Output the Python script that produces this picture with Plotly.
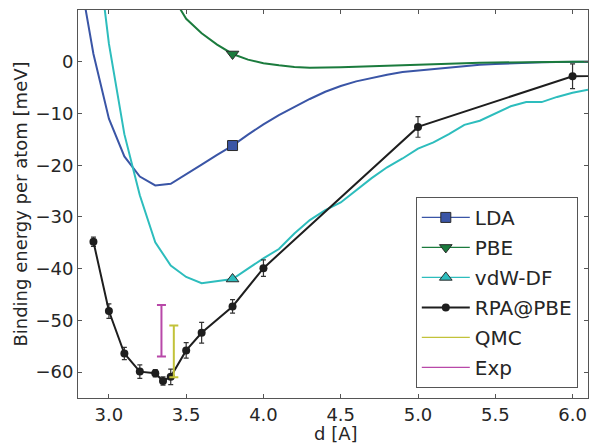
import plotly.graph_objects as go

# Interlayer distance grid for the DFT curves [A]
d_dft = [2.8, 2.9, 3.0, 3.1, 3.2, 3.3, 3.4, 3.5, 3.6, 3.7, 3.8, 3.9, 4.0, 4.1, 4.2,
         4.3, 4.4, 4.5, 4.6, 4.7, 4.8, 4.9, 5.0, 5.1, 5.2, 5.3, 5.4, 5.5, 5.6, 5.7,
         5.8, 5.9, 6.0, 6.1]

# Binding energies per atom [meV]
e_lda = [18.5, 1.5, -11.0, -18.3, -22.2, -23.9, -23.6, -21.8, -19.9, -18.0, -16.2,
         -14.1, -12.1, -10.3, -8.7, -7.2, -5.8, -4.7, -3.8, -3.1, -2.5, -2.0, -1.7,
         -1.4, -1.1, -0.85, -0.6, -0.45, -0.3, -0.2, -0.12, -0.06, 0.0, 0.0]

e_vdw = [60.0, 28.0, 3.5, -14.0, -25.8, -34.9, -39.4, -41.6, -42.8, -42.4, -42.0,
         -40.0, -38.0, -36.2, -33.2, -30.6, -28.7, -27.2, -24.9, -22.5, -20.4, -18.7,
         -16.8, -15.6, -14.0, -12.2, -11.4, -10.0, -8.6, -7.8, -7.8, -6.8, -6.0, -5.4]

d_pbe = [3.3, 3.4, 3.5, 3.6, 3.7, 3.8, 3.9, 4.0, 4.1, 4.2, 4.3, 4.4, 4.5, 4.6, 4.7,
         4.8, 4.9, 5.0, 5.1, 5.2, 5.3, 5.4, 5.5, 5.6, 5.7, 5.8, 5.9, 6.0, 6.1]
e_pbe = [20.0, 13.2, 8.3, 5.5, 3.3, 1.5, 0.4, -0.3, -0.7, -1.0, -1.15, -1.15, -1.05,
         -0.95, -0.85, -0.75, -0.6, -0.5, -0.4, -0.3, -0.25, -0.2, -0.15, -0.1, -0.07,
         -0.05, -0.02, 0.0, 0.0]

d_rpa = [2.9, 3.0, 3.1, 3.2, 3.3, 3.35, 3.4, 3.5, 3.6, 3.8, 4.0, 5.0, 6.0, 7.0]
e_rpa = [-34.8, -48.2, -56.4, -59.9, -60.2, -61.7, -60.9, -55.8, -52.4, -47.3,
         -39.9, -12.6, -2.8, -2.3]
err_rpa = [0.9, 1.4, 1.2, 1.3, 0.7, 0.8, 1.5, 1.5, 2.0, 1.3, 1.6, 2.0, 2.4, 2.0]

# Reference values: (distance, energy, uncertainty)
d_qmc, e_qmc, err_qmc = [3.42], [-56.0], [5.0]
d_exp, e_exp, err_exp = [3.34], [-52.0], [5.0]

# Distance at which the DFT curves carry a marker
d_mark = 3.8

x_ticks = [3.0, 3.5, 4.0, 4.5, 5.0, 5.5, 6.0]
y_ticks = [-60, -50, -40, -30, -20, -10, 0, 10]

FONT = "DejaVu Sans"
TXT = "#262626"
EDGE = "#2a2a2a"

c_lda = "#3a55a6"
c_pbe = "#1b7b3d"
c_vdw = "#2dbdbd"
c_rpa = "#1e1e1e"
c_qmc = "#c2c23a"
c_exp = "#b848a8"


def at(xs, ys, x0):
    i = min(range(len(xs)), key=lambda k: abs(xs[k] - x0))
    return [xs[i]], [ys[i]]


fig = go.Figure()

dft = [
    ("LDA", d_dft, e_lda, c_lda, "square", 10),
    ("PBE", d_pbe, e_pbe, c_pbe, "triangle-down", 11),
    ("vdW-DF", d_dft, e_vdw, c_vdw, "triangle-up", 11),
]
for name, xs, ys, col, sym, size in dft:
    fig.add_trace(go.Scatter(
        x=xs, y=ys, mode="lines", line=dict(color=col, width=2),
        legendgroup=name, showlegend=False, hoverinfo="skip"))
for name, xs, ys, col, sym, size in dft:
    mx, my = at(xs, ys, d_mark)
    fig.add_trace(go.Scatter(
        x=mx, y=my, mode="lines+markers", name=name, legendgroup=name,
        line=dict(color=col, width=1.2),
        marker=dict(symbol=sym, size=size, color=col,
                    line=dict(color=EDGE, width=1))))

fig.add_trace(go.Scatter(
    x=d_rpa, y=e_rpa, mode="lines+markers", name="RPA@PBE", legendgroup="RPA@PBE",
    line=dict(color=c_rpa, width=2),
    marker=dict(symbol="circle", size=8, color=c_rpa),
    error_y=dict(type="data", array=err_rpa, visible=True,
                 color="#333333", thickness=1.2, width=2.5)))

for name, xs, ys, es, col in [("QMC", d_qmc, e_qmc, err_qmc, c_qmc),
                              ("Exp", d_exp, e_exp, err_exp, c_exp)]:
    fig.add_trace(go.Scatter(
        x=xs, y=ys, mode="lines", name=name, legendgroup=name,
        line=dict(color=col, width=1.2),
        error_y=dict(type="data", array=es, visible=True,
                     color=col, thickness=2, width=4.5)))

axis_common = dict(
    showline=True, linecolor="#555555", linewidth=1, mirror="ticks",
    ticks="inside", ticklen=4, tickwidth=1, tickcolor="#555555",
    showgrid=False, zeroline=False,
    tickfont=dict(family=FONT, size=18, color=TXT),
)

fig.update_layout(
    width=590, height=448,
    margin=dict(l=78, r=2, t=10, b=50),
    paper_bgcolor="white", plot_bgcolor="white",
    font=dict(family=FONT, size=18, color=TXT),
    xaxis=dict(range=[2.8, 6.1], tickvals=x_ticks,
               ticktext=[f"{v:.1f}" for v in x_ticks],
               **axis_common),
    yaxis=dict(range=[-65, 10], tickvals=y_ticks,
               title=dict(text="Binding energy per atom [meV]", standoff=3,
                          font=dict(family=FONT, size=18, color=TXT)),
               **axis_common),
    legend=dict(x=0.98, y=0.026, xanchor="right", yanchor="bottom",
                bgcolor="white", bordercolor="#555555", borderwidth=1,
                font=dict(family=FONT, size=20, color=TXT),
                tracegroupgap=1, itemwidth=48),
    showlegend=True,
    annotations=[dict(text="d [A]", xref="paper", yref="paper",
                      x=0.5, y=0, xanchor="center", yanchor="middle",
                      yshift=-35, xshift=3, showarrow=False,
                      font=dict(family=FONT, size=18, color=TXT))],
)

fig.write_html("out.html")
